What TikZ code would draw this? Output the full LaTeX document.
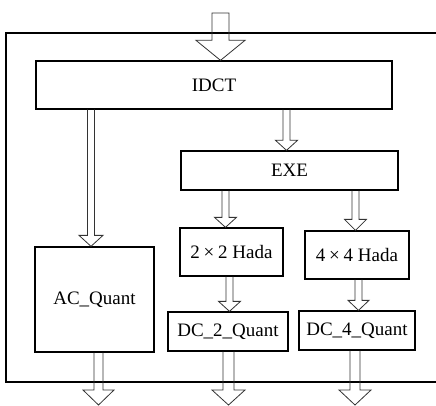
\documentclass[tikz,border=0pt]{standalone}
\usepackage{fontspec}
\setmainfont{Liberation Serif}
\usetikzlibrary{calc}
\tikzset{
  box/.style={draw=black, line width=1.3pt, rectangle, inner sep=0pt, anchor=center,
    font=\fontsize{19}{22}\selectfont},
  arrowline/.style={draw=black!80, line width=0.8pt, line join=miter},
  outerline/.style={draw=black, line width=1.3pt},
}
\newcommand\wtimes{\hspace{0.2em}×\hspace{0.2em}}
% #1 centre x, #2 from, #3 to (tip), #4 shaft half width, #5 head half width, #6 head length
\newcommand\blockarr[6]{%
  \draw[arrowline] let \p1=(#2), \p2=(#3) in
   ({(#1-#4)*1pt},\y1) -- ({(#1-#4)*1pt},{\y2+#6pt}) -- ({(#1-#5)*1pt},{\y2+#6pt})
   -- ({#1*1pt},\y2) -- ({(#1+#5)*1pt},{\y2+#6pt}) -- ({(#1+#4)*1pt},{\y2+#6pt})
   -- ({(#1+#4)*1pt},\y1);}
\begin{document}
\begin{tikzpicture}[x=1pt,y=-1pt]
\useasboundingbox[fill=white] (0,0) rectangle (436,406);
% outer frame (its right side lies beyond the picture)
\draw[outerline] (445,33) -- (6,33) -- (6,382) -- (445,382);
% boxes
\node[box, minimum width=356pt, minimum height=48pt] (idct) at (214,85) {IDCT};
\node[box, minimum width=217pt, minimum height=39pt] (exe) at (289.5,170.5) {EXE};
\node[box, minimum width=119pt, minimum height=105pt] (ac) at (94.5,299.5) {AC\_Quant};
\node[box, minimum width=103pt, minimum height=48pt] (h2) at (231.5,252) {2\wtimes2 Hada};
\node[box, minimum width=104pt, minimum height=48pt] (h4) at (357,255) {4\wtimes4 Hada};
\node[box, minimum width=120pt, minimum height=39pt] (dc2) at (228,331.5) {DC\_2\_Quant};
\node[box, minimum width=116pt, minimum height=39pt] (dc4) at (357,330.5) {DC\_4\_Quant};
% free ends
\coordinate (in) at (220.5,13);
\coordinate (outac) at (98.5,405);
\coordinate (out2) at (228.5,405);
\coordinate (out4) at (355,405);
% input arrow (closed top)
\draw[arrowline] let \p1=(in), \p2=(idct.north) in
   (212pt,\y1) -- (212pt,{\y2+20pt}) -- (196pt,{\y2+20pt}) -- (220.5pt,\y2)
   -- (245pt,{\y2+20pt}) -- (229pt,{\y2+20pt}) -- (229pt,\y1) -- cycle;
% internal arrows
\blockarr{91}{idct.south}{ac.north}{3.5}{12}{11}
\blockarr{286.5}{idct.south}{exe.north}{3.5}{11}{10}
\blockarr{225.5}{exe.south}{h2.north}{3.5}{11}{10}
\blockarr{355.5}{exe.south}{h4.north}{3.5}{11}{11}
\blockarr{229.5}{h2.south}{dc2.north}{3.5}{11}{10}
\blockarr{358.5}{h4.south}{dc4.north}{3.5}{10.5}{10}
% output arrows
\blockarr{98.5}{ac.south}{outac}{4.5}{15.5}{15}
\blockarr{228.5}{dc2.south}{out2}{5.5}{16.5}{15}
\blockarr{355}{dc4.south}{out4}{5}{16}{15}
\end{tikzpicture}
\end{document}
